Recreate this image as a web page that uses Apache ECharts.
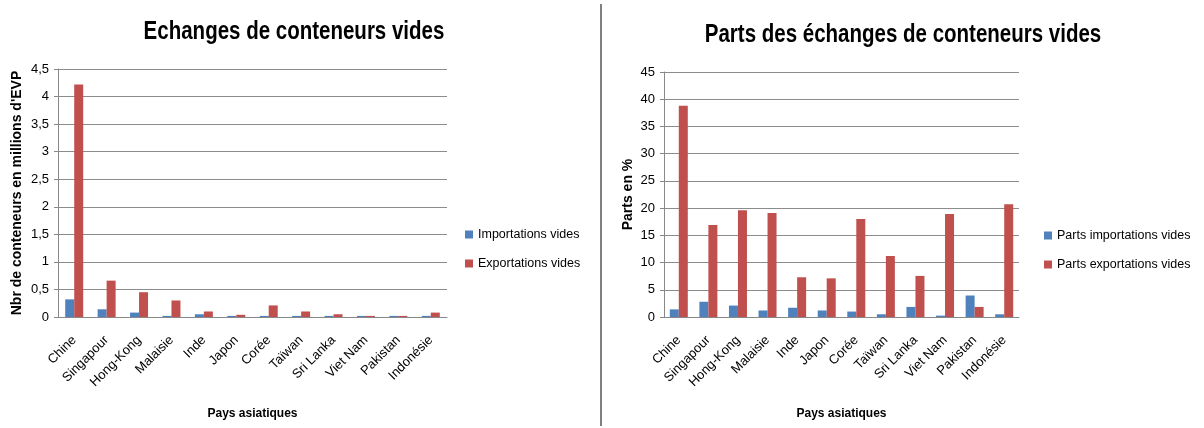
<!DOCTYPE html>
<html>
<head>
<meta charset="utf-8">
<script src="https://cdn.jsdelivr.net/npm/echarts@6/dist/echarts.min.js"></script>
<style>
  html, body { margin: 0; padding: 0; background: #fff; }
  #chart { width: 1204px; height: 428px; }
</style>
</head>
<body>
<div id="chart"></div>
<script>
// Pays d'Asie (axe des catégories commun aux deux graphiques)
const pays = ['Chine', 'Singapour', 'Hong-Kong', 'Malaisie', 'Inde', 'Japon', 'Corée', 'Taïwan', 'Sri Lanka', 'Viet Nam', 'Pakistan', 'Indonésie'];

// Volumes en millions d'EVP
const importationsVides = [0.32, 0.14, 0.08, 0.02, 0.05, 0.02, 0.02, 0.02, 0.02, 0.02, 0.02, 0.02];
const exportationsVides = [4.22, 0.66, 0.45, 0.30, 0.10, 0.04, 0.21, 0.10, 0.05, 0.02, 0.02, 0.08];

// Parts en %
const partsImportations = [1.4, 2.8, 2.1, 1.2, 1.7, 1.2, 1.0, 0.5, 1.85, 0.25, 3.95, 0.5];
const partsExportations = [38.8, 16.9, 19.6, 19.1, 7.3, 7.1, 18.0, 11.2, 7.55, 18.9, 1.85, 20.7];

// Graduations de l'axe des volumes
const ticksVolumes = ['0', '0,5', '1', '1,5', '2', '2,5', '3', '3,5', '4', '4,5'];

// Titres
const titreVolumes = 'Echanges de conteneurs vides';
const titreParts = 'Parts des échanges de conteneurs vides';

const BLEU = '#4F81BD';
const ROUGE = '#C0504D';
const FONT = '"Liberation Sans", Arial, sans-serif';

const chart = echarts.init(document.getElementById('chart'));

function catAxis(gridIndex) {
  return {
    type: 'category',
    gridIndex,
    data: pays,
    name: 'Pays asiatiques',
    nameLocation: 'middle',
    nameGap: 91,
    nameTextStyle: { fontFamily: FONT, fontWeight: 'bold', fontSize: 12, color: '#000' },
    axisLine: { lineStyle: { color: '#888', width: 1 } },
    axisTick: { show: false },
    axisLabel: { rotate: 45, interval: 0, fontFamily: FONT, fontSize: 13, color: '#000', margin: 21 },
    splitLine: { show: false }
  };
}

function valAxis(gridIndex, max, interval, name, gap, formatter) {
  return {
    type: 'value',
    gridIndex,
    min: 0,
    max,
    interval,
    name,
    nameLocation: 'middle',
    nameGap: gap,
    nameTextStyle: { fontFamily: FONT, fontWeight: 'bold', fontSize: 14, color: '#000' },
    axisLine: { show: true, lineStyle: { color: '#888', width: 1 } },
    axisTick: { show: true, length: 4, lineStyle: { color: '#888' } },
    axisLabel: { fontFamily: FONT, fontSize: 13, color: '#000', margin: 9, formatter },
    splitLine: { lineStyle: { color: '#8c8c8c', width: 1 } }
  };
}

function barSeries(name, data, color, idx) {
  return {
    type: 'bar',
    name,
    data,
    xAxisIndex: idx,
    yAxisIndex: idx,
    barWidth: 9,
    barGap: '0%',
    itemStyle: { color },
    emphasis: { disabled: true }
  };
}

// Titre en gras, légèrement condensé horizontalement
function titre(text, x, y) {
  return {
    type: 'text',
    x, y,
    scaleX: 0.82,
    style: {
      text,
      font: 'bold 25px ' + FONT,
      fill: '#000',
      align: 'center',
      verticalAlign: 'middle'
    }
  };
}

chart.setOption({
  animation: false,
  backgroundColor: '#fff',
  legend: [
    { data: ['Importations vides', 'Exportations vides'], orient: 'vertical', left: 460, top: 223,
      itemWidth: 8, itemHeight: 8, itemGap: 16, icon: 'rect',
      textStyle: { fontFamily: FONT, fontSize: 12.5, color: '#000' } },
    { data: ['Parts importations vides', 'Parts exportations vides'], orient: 'vertical', left: 1039, top: 224,
      itemWidth: 8, itemHeight: 8, itemGap: 16, icon: 'rect',
      textStyle: { fontFamily: FONT, fontSize: 12.5, color: '#000' } }
  ],
  grid: [
    { left: 58, top: 69, width: 389, height: 248 },
    { left: 664, top: 72, width: 355, height: 245 }
  ],
  xAxis: [catAxis(0), catAxis(1)],
  yAxis: [
    valAxis(0, 4.5, 0.5, "Nbr de conteneurs en millions d'EVP", 34,
      v => ticksVolumes[Math.round(v / 0.5)]),
    valAxis(1, 45, 5, 'Parts en %', 29, v => String(v))
  ],
  series: [
    barSeries('Importations vides', importationsVides, BLEU, 0),
    barSeries('Exportations vides', exportationsVides, ROUGE, 0),
    barSeries('Parts importations vides', partsImportations, BLEU, 1),
    barSeries('Parts exportations vides', partsExportations, ROUGE, 1)
  ],
  graphic: [
    titre(titreVolumes, 294, 32),
    titre(titreParts, 903, 35),
    { type: 'line', shape: { x1: 601, y1: 4, x2: 601, y2: 426 }, style: { stroke: '#808080', lineWidth: 2 } }
  ]
});
</script>
</body>
</html>
